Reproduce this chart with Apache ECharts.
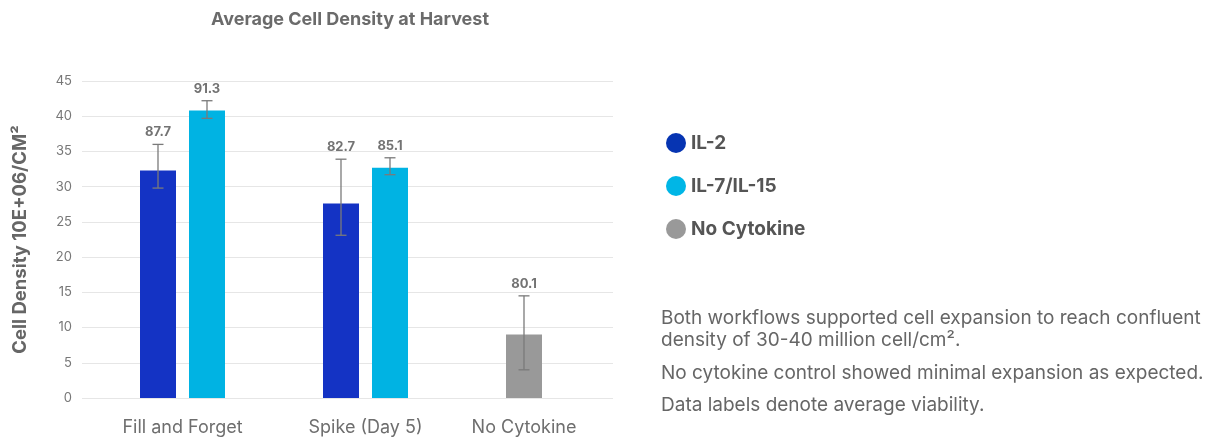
<!DOCTYPE html>
<html>
<head>
<meta charset="utf-8">
<script src="https://cdn.jsdelivr.net/npm/echarts@6/dist/echarts.min.js"></script>
<style>
  html, body { margin: 0; padding: 0; background: #fff; }
  #chart { width: 1218px; height: 443px; }
</style>
</head>
<body>
<div id="chart"></div>
<script>
// 数据
const categories = ["Fill and Forget", "Spike (Day 5)", "No Cytokine"];

const il2Mean = [32.3, 27.6, "-"];
const il2Low = [29.8, 23.1, "-"];
const il2High = [36.0, 33.9, "-"];
const il2Viability = [87.7, 82.7, "-"];

const il7Mean = [40.8, 32.7, "-"];
const il7Low = [39.7, 31.7, "-"];
const il7High = [42.2, 34.1, "-"];
const il7Viability = [91.3, 85.1, "-"];

const noCytoMean = ["-", "-", 9.0];
const noCytoLow = ["-", "-", 4.0];
const noCytoHigh = ["-", "-", 14.5];
const noCytoViability = ["-", "-", 80.1];

const yTicks = [0, 5, 10, 15, 20, 25, 30, 35, 40, 45];

const notes = [
  "Both workflows supported cell expansion to reach confluent",
  "density of 30-40 million cell/cm\u00b2.",
  "No cytokine control showed minimal expansion as expected.",
  "Data labels denote average viability."
];

// 样式
const FONT = "Inter";
const BAR_W = 36;
const BAR_GAP = 13;
const SLOT = (BAR_W + BAR_GAP) / 2;
const colors = { il2: "#1433c4", il7: "#00b3e3", none: "#999999" };

const errorSeries = (name, low, high, viab, side) => ({
  name: name,
  type: "custom",
  xAxisIndex: 1,
  yAxisIndex: 1,
  z: 10,
  encode: { x: 0, y: [1, 2] },
  data: categories
    .map((c, i) => [i, low[i], high[i], viab[i]])
    .filter(d => d[1] !== "-"),
  renderItem: (params, api) => {
    const x = api.coord([api.value(0), 0])[0] + side * SLOT;
    const top = api.coord([api.value(0), api.value(2)])[1];
    const bot = api.coord([api.value(0), api.value(1)])[1];
    const cap = 5.5;
    const stroke = { stroke: "#7a7a7a", lineWidth: 1.3 };
    return {
      type: "group",
      children: [
        { type: "line", shape: { x1: x, y1: top, x2: x, y2: bot }, style: stroke },
        { type: "line", shape: { x1: x - cap, y1: top, x2: x + cap, y2: top }, style: stroke },
        { type: "line", shape: { x1: x - cap, y1: bot, x2: x + cap, y2: bot }, style: stroke },
        {
          type: "text",
          x: x,
          y: top - 12,
          style: {
            text: api.value(3).toFixed(1),
            align: "center",
            verticalAlign: "middle",
            fontFamily: FONT,
            fontSize: 13,
            fontWeight: "bold",
            fill: "#737373"
          }
        }
      ]
    };
  }
});

const chart = echarts.init(document.getElementById("chart"));

chart.setOption({
  animation: false,
  title: {
    text: "Average Cell Density at Harvest",
    left: 206,
    top: 6,
    textStyle: { fontFamily: FONT, fontSize: 18, fontWeight: "bold", color: "#6b6b6b" }
  },
  legend: {
    orient: "vertical",
    left: 661,
    top: 128,
    itemWidth: 20,
    itemHeight: 20,
    itemGap: 23,
    icon: "circle",
    data: [
      { name: "IL-2", itemStyle: { color: "#0634b2" } },
      { name: "IL-7/IL-15", itemStyle: { color: "#00b6e6" } },
      { name: "No Cytokine", itemStyle: { color: "#999999" } }
    ],
    textStyle: { fontFamily: FONT, fontSize: 19, fontWeight: "bold", color: "#555" }
  },
  grid: [
    // 网格线区域
    { left: 82, right: 605, top: 81, bottom: 45 },
    // 柱子区域
    { left: 91, right: 578, top: 81, bottom: 45 }
  ],
  xAxis: [
    { gridIndex: 0, type: "category", data: categories, show: false },
    {
      gridIndex: 1,
      type: "category",
      data: categories.map((c, i) =>
        i === 2 ? { value: c, textStyle: { padding: [0, 2 * SLOT, 0, 0] } } : c
      ),
      axisLine: { show: false },
      axisTick: { show: false },
      axisLabel: { margin: 21, fontFamily: FONT, fontSize: 18, color: "#6e6e6e" }
    }
  ],
  yAxis: [
    {
      gridIndex: 0,
      type: "value",
      min: yTicks[0],
      max: yTicks[yTicks.length - 1],
      interval: yTicks[1] - yTicks[0],
      name: "Cell Density 10E+06/CM\u00b2",
      nameLocation: "middle",
      nameGap: 52,
      nameTextStyle: { fontFamily: FONT, fontSize: 18.5, fontWeight: "bold", color: "#666" },
      axisLine: { show: false },
      axisTick: { show: false },
      axisLabel: { margin: 10, fontFamily: FONT, fontSize: 13, color: "#777" },
      splitLine: { lineStyle: { color: "#e6e6e6", width: 1.2 } }
    },
    {
      gridIndex: 1,
      type: "value",
      min: yTicks[0],
      max: yTicks[yTicks.length - 1],
      show: false,
      splitLine: { show: false }
    }
  ],
  series: [
    {
      name: "IL-2",
      type: "bar",
      xAxisIndex: 1,
      yAxisIndex: 1,
      stack: "left",
      barWidth: BAR_W,
      barGap: (BAR_GAP / BAR_W * 100).toFixed(1) + "%",
      itemStyle: { color: colors.il2 },
      data: il2Mean
    },
    {
      name: "No Cytokine",
      type: "bar",
      xAxisIndex: 1,
      yAxisIndex: 1,
      stack: "left",
      barWidth: BAR_W,
      itemStyle: { color: colors.none },
      data: noCytoMean
    },
    {
      name: "IL-7/IL-15",
      type: "bar",
      xAxisIndex: 1,
      yAxisIndex: 1,
      barWidth: BAR_W,
      itemStyle: { color: colors.il7 },
      data: il7Mean
    },
    errorSeries("err-il2", il2Low, il2High, il2Viability, -1),
    errorSeries("err-il7", il7Low, il7High, il7Viability, 1),
    errorSeries("err-none", noCytoLow, noCytoHigh, noCytoViability, -1)
  ],
  graphic: notes.map((t, i) => ({
    type: "text",
    x: 661,
    y: [318, 340, 373, 405][i],
    style: {
      text: t,
      fontFamily: FONT,
      fontSize: 19,
      fill: "#666",
      verticalAlign: "middle"
    }
  }))
});
</script>
</body>
</html>
